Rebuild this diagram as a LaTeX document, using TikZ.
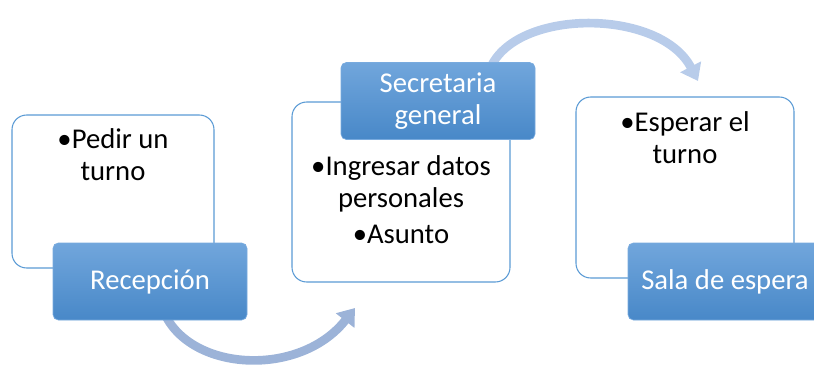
\documentclass[tikz,border=0pt]{standalone}
\usepackage{fontspec}
\setmainfont{Carlito}
\usetikzlibrary{arrows.meta}
\definecolor{tagtop}{RGB}{113,166,220}
\definecolor{tagbot}{RGB}{72,136,200}
\definecolor{tagline}{RGB}{120,170,222}
\definecolor{panelline}{RGB}{91,155,213}
\definecolor{flowlow}{RGB}{156,179,216}
\definecolor{flowhigh}{RGB}{184,204,234}
\tikzset{
  panel/.style={draw=panelline, fill=white, line width=0.8pt, rounded corners=11pt},
  tag/.style={draw=tagline, line width=0.5pt, rounded corners=4pt, top color=tagtop, bottom color=tagbot,
    minimum width=145.5pt, minimum height=57.75pt, text=white, align=center,
    font=\fontsize{21.5}{24.5}\selectfont, inner sep=0pt},
  note/.style={align=center, anchor=base, inner sep=0pt, font=\fontsize{21.5}{24}\selectfont},
  flow/.style={line width=6.5pt, -{Triangle[width=17pt,length=12pt]}}
}
\begin{document}
\begin{tikzpicture}[x=0.75pt, y=-0.75pt]
				\useasboundingbox (0,0) rectangle (814,371);
				
				%blue tags (only placed here, drawn later)
				\path (150,281.5) node[minimum width=145.5pt, minimum height=57.75pt] (rec) {};
				\path (438,101) node[minimum width=145.5pt, minimum height=57.75pt] (sec) {};
				
				%arrows
				\coordinate (tipA) at (355,308);
				\coordinate (tipB) at (698,81);
				\draw[flow, flowlow] ([xshift=10.5pt, yshift=6pt]rec.south) .. controls (190,372) and (300,378) .. (tipA);
				\draw[flow, flowhigh] ([xshift=39pt, yshift=-5pt]sec.north) .. controls (515,8) and (660,8) .. (tipB);
				
				%white panels
				\node[panel, minimum width=151.5pt, minimum height=114.75pt] (pedir) at (113,191.5) {};
				\node[panel, minimum width=163.5pt, minimum height=135pt] (datos) at (401,192) {};
				\node[panel, minimum width=163.5pt, minimum height=135.75pt] (esperar) at (685,187.5) {};
				
				%texts, placed at the baseline of their last line
				\node[note] (pedirtxt) at (113,180) {•Pedir un\\turno};
				\node[note] (datostxt) at (401,243) {•Ingresar datos\\personales\\[3pt]•Asunto};
				\node[note] (esperartxt) at (685,163) {•Esperar el\\turno};
				
				%blue tags
				\node[tag] (recepcion) at (rec) {Recepción};
				\node[tag] (secretaria) at (sec) {Secretaria\\general};
				\node[tag] (sala) at (725,281.5) {Sala de espera};
\end{tikzpicture}
\end{document}
